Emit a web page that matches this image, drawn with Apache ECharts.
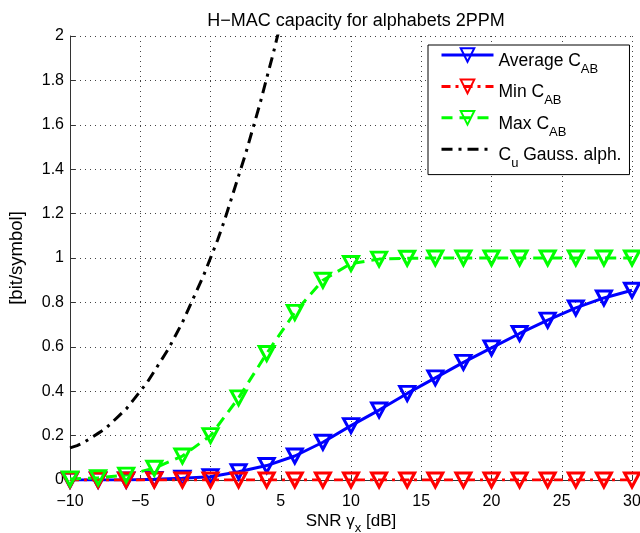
<html>
<head>
    <script src="https://cdn.jsdelivr.net/npm/echarts@6/dist/echarts.min.js"></script>
    <style>
        html, body { margin: 0; padding: 0; background: #fff; }
        #main { width: 640px; height: 533px; }
    </style>
</head>
<body>
    <div id="main"></div>
    <script>
        var myChart = echarts.init(document.getElementById('main'));

        // SNR points with markers (dB)
        var snr = [-10, -8, -6, -4, -2, 0, 2, 4, 6, 8, 10, 12, 14, 16, 18, 20, 22, 24, 26, 28, 30];
        var avgC = [0, 0, 0, 0.003, 0.008, 0.015, 0.037, 0.065, 0.108, 0.17, 0.245, 0.315, 0.39, 0.46, 0.53, 0.595, 0.66, 0.72, 0.775, 0.82, 0.855];
        var minC = [0, 0, 0, 0, 0, 0, 0, 0, 0, 0, 0, 0, 0, 0, 0, 0, 0, 0, 0, 0, 0];
        var maxC = [0.005, 0.01, 0.022, 0.053, 0.108, 0.2, 0.37, 0.57, 0.755, 0.9, 0.975, 0.995, 0.999, 1, 1, 1, 1, 1, 1, 1, 1];

        // Gaussian alphabet curve
        var snrGauss = [-10, -9.5, -9, -8.5, -8, -7.5, -7, -6.5, -6, -5.5, -5, -4.5, -4, -3.5, -3, -2.5, -2, -1.5, -1, -0.5, 0, 0.5, 1, 1.5, 2, 2.5, 3, 3.5, 4, 4.5, 5];
        var gaussC = [0.145, 0.155, 0.17, 0.19, 0.21, 0.23, 0.26, 0.29, 0.32, 0.36, 0.40, 0.44, 0.49, 0.54, 0.59, 0.65, 0.71, 0.78, 0.85, 0.92, 1.0, 1.08, 1.17, 1.27, 1.37, 1.47, 1.58, 1.69, 1.81, 1.93, 2.06];

        var legendText = {
            avg: '{t|Average C}{s|AB}',
            min: '{t|Min C}{s|AB}',
            max: '{t|Max C}{s|AB}',
            cu: '{t|C}{s|u}{t| Gauss. alph.}'
        };

        function pairs(xs, ys) {
            return xs.map(function (x, i) { return [x, ys[i]]; });
        }

        var tri = 'path://M0,0 L10,0 L5,9 Z';
        var font = 'Liberation Sans, Arial, Helvetica, sans-serif';

        function markerSeries(name, data, color, dash) {
            return {
                name: name,
                type: 'line',
                data: data,
                symbol: tri,
                symbolSize: [15, 14],
                showAllSymbol: true,
                lineStyle: { color: color, width: 3, type: dash },
                itemStyle: { color: 'rgba(0,0,0,0)', borderColor: color, borderWidth: 3 },
                emphasis: { disabled: true },
                animation: false
            };
        }

        var option = {
            backgroundColor: '#fff',
            textStyle: { fontFamily: font },
            title: {
                text: 'H\u2212MAC capacity for alphabets 2PPM',
                left: 351,
                textAlign: 'center',
                top: 1,
                textStyle: { fontSize: 18, fontWeight: 'normal', color: '#000', fontFamily: font }
            },
            grid: { left: 70, right: 8, top: 36, bottom: 53, containLabel: false, outerBoundsMode: 'none' },
            legend: {
                data: [
                    { name: 'avg' },
                    { name: 'min' },
                    { name: 'max' },
                    { name: 'cu', itemStyle: { opacity: 0 } }
                ],
                orient: 'vertical',
                left: 428,
                top: 45,
                padding: [1, 8, 0, 12],
                itemGap: -3,
                itemWidth: 52,
                itemHeight: 17,
                backgroundColor: '#fff',
                borderColor: '#000',
                borderWidth: 1,
                lineStyle: { width: 3 },
                formatter: function (n) { return legendText[n]; },
                textStyle: {
                    color: '#000',
                    fontFamily: font,
                    rich: {
                        t: { fontSize: 17.5, lineHeight: 18, verticalAlign: 'top', fontFamily: font, color: '#000' },
                        s: { fontSize: 13, lineHeight: 13, verticalAlign: 'top', padding: [12, 0, 0, 0], fontFamily: font, color: '#000' }
                    }
                }
            },
            xAxis: {
                type: 'value',
                min: -10,
                max: 30,
                interval: 5,
                name: '{a|SNR \u03b3}{b|x}{a| [dB]}',
                nameLocation: 'middle',
                nameGap: 27,
                nameMoveOverlap: false,
                nameTextStyle: {
                    rich: {
                        a: { fontSize: 17, lineHeight: 17, verticalAlign: 'top', color: '#000', fontFamily: font },
                        b: { fontSize: 13, lineHeight: 13, verticalAlign: 'top', padding: [10, 0, 0, 0], color: '#000', fontFamily: font }
                    }
                },
                axisLine: { show: true, onZero: false, lineStyle: { color: '#333', width: 1 } },
                axisTick: { show: true, inside: true, length: 5, lineStyle: { color: '#333' } },
                axisLabel: {
                    fontSize: 16, color: '#000', margin: 8, fontFamily: font,
                    formatter: function (v) { return v < 0 ? '\u2212' + (-v) : '' + v; }
                },
                splitLine: { show: true, lineStyle: { color: '#444', width: 1, type: [1, 4] } }
            },
            yAxis: {
                type: 'value',
                min: 0,
                max: 2,
                interval: 0.2,
                name: '[bit/symbol]',
                nameLocation: 'middle',
                nameGap: 37,
                nameMoveOverlap: false,
                nameTextStyle: { fontSize: 18.5, color: '#000', fontFamily: font },
                axisLine: { show: true, onZero: false, lineStyle: { color: '#333', width: 1 } },
                axisTick: { show: true, inside: true, length: 5, lineStyle: { color: '#333' } },
                axisLabel: {
                    fontSize: 16, color: '#000', margin: 6, fontFamily: font,
                    formatter: function (v) { return +v.toFixed(1) + ''; }
                },
                splitLine: { show: true, lineStyle: { color: '#444', width: 1, type: [1, 4] } }
            },
            series: [
                markerSeries('avg', pairs(snr, avgC), '#0000ff', 'solid'),
                markerSeries('min', pairs(snr, minC), '#ff0000', [9, 5, 3, 5]),
                markerSeries('max', pairs(snr, maxC), '#00ff00', [11, 7]),
                {
                    name: 'cu',
                    type: 'line',
                    data: pairs(snrGauss, gaussC),
                    symbol: 'none',
                    lineStyle: { color: '#000', width: 3, type: [11, 6, 3, 6] },
                    itemStyle: { color: '#000' },
                    emphasis: { disabled: true },
                    animation: false
                }
            ]
        };
        myChart.setOption(option);
    </script>
</body>
</html>
